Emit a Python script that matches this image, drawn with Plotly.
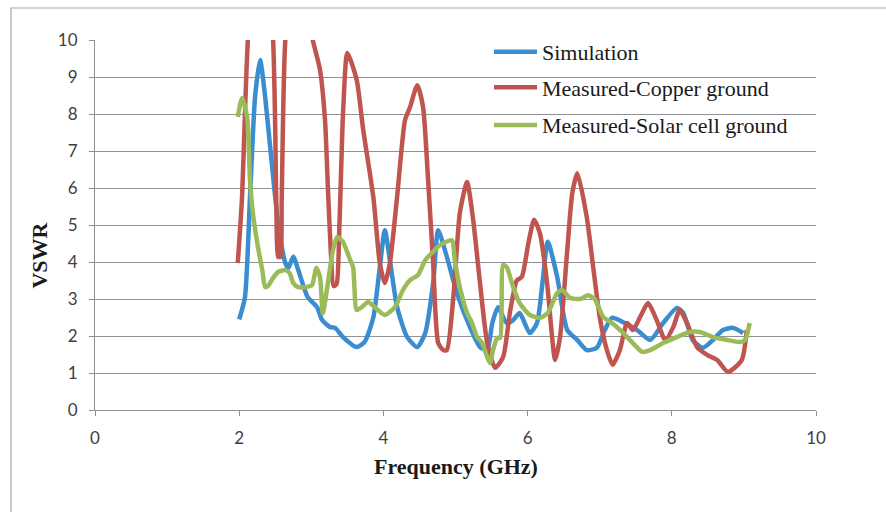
import plotly.graph_objects as go

# Simulated VSWR
sim_freq = [2.00, 2.08, 2.15, 2.22, 2.29, 2.36, 2.45, 2.54, 2.64, 2.68, 2.75, 2.82, 2.95, 3.08,
            3.15, 3.26, 3.33, 3.44, 3.63, 3.74, 3.86, 3.95, 4.02, 4.09, 4.19, 4.33, 4.47, 4.58,
            4.69, 4.76, 4.88, 5.02, 5.20, 5.34, 5.44, 5.51, 5.59, 5.71, 5.80, 5.89, 6.03, 6.13,
            6.21, 6.28, 6.41, 6.55, 6.69, 6.82, 6.96, 7.07, 7.17, 7.32, 7.52, 7.70, 7.88, 8.07,
            8.16, 8.29, 8.43, 8.57, 8.71, 8.85, 8.99]
sim_vswr = [2.45, 3.05, 5.76, 8.46, 9.46, 8.46, 6.70, 5.05, 3.97, 3.83, 4.14, 3.78, 3.05, 2.78,
            2.43, 2.24, 2.22, 1.97, 1.70, 1.84, 2.50, 3.86, 4.86, 4.05, 2.78, 1.97, 1.70, 2.08,
            3.43, 4.86, 4.14, 3.16, 2.24, 1.70, 1.62, 2.35, 2.78, 2.35, 2.43, 2.62, 2.08, 2.35,
            3.50, 4.55, 3.60, 2.16, 1.89, 1.62, 1.68, 2.16, 2.49, 2.38, 2.16, 1.89, 2.35, 2.76,
            2.62, 1.89, 1.68, 1.89, 2.16, 2.22, 2.08]

# Measured VSWR, copper ground plane
cu_freq = [1.98, 2.04, 2.08, 2.12, 2.22, 2.36, 2.47, 2.50, 2.52, 2.54, 2.57, 2.59, 2.64, 2.77,
           2.91, 3.02, 3.12, 3.19, 3.23, 3.27, 3.31, 3.35, 3.39, 3.44, 3.50, 3.63, 3.72, 3.86,
           3.95, 4.02, 4.09, 4.19, 4.30, 4.37, 4.47, 4.55, 4.62, 4.69, 4.76, 4.83, 4.88, 4.97,
           5.06, 5.16, 5.24, 5.34, 5.44, 5.55, 5.66, 5.76, 5.85, 5.92, 6.01, 6.09, 6.17, 6.27,
           6.34, 6.38, 6.45, 6.55, 6.62, 6.69, 6.82, 6.91, 7.00, 7.10, 7.18, 7.28, 7.38, 7.46,
           7.56, 7.67, 7.79, 7.91, 8.02, 8.11, 8.21, 8.35, 8.49, 8.63, 8.78, 8.97, 9.04]
cu_vswr = [3.97, 5.76, 8.03, 10.0, 12.5, 12.5, 10.0, 7.57, 4.86, 4.14, 4.14, 5.76, 10.0, 12.0,
           11.0, 10.0, 9.20, 7.84, 6.03, 4.30, 3.35, 3.40, 5.00, 8.00, 9.65, 8.92, 7.57, 5.76,
           3.97, 3.43, 3.97, 5.76, 7.84, 8.19, 8.78, 8.19, 6.22, 3.97, 1.81, 1.62, 1.62, 3.05,
           5.32, 6.16, 5.22, 3.43, 1.81, 1.14, 1.43, 2.70, 3.50, 3.60, 4.50, 5.14, 4.78, 3.43,
           1.97, 1.35, 1.97, 4.32, 5.86, 6.40, 5.22, 3.86, 2.51, 1.62, 1.22, 1.62, 2.35, 2.16,
           2.51, 2.89, 2.43, 1.89, 2.24, 2.70, 2.35, 1.70, 1.49, 1.35, 1.03, 1.35, 2.16]

# Measured VSWR, solar cell ground plane
solar_freq = [1.98, 2.04, 2.11, 2.15, 2.19, 2.26, 2.32, 2.36, 2.40, 2.47, 2.54, 2.64, 2.70, 2.75,
              2.82, 2.91, 3.01, 3.07, 3.12, 3.16, 3.23, 3.30, 3.36, 3.44, 3.54, 3.58, 3.63, 3.70,
              3.79, 3.88, 4.02, 4.16, 4.27, 4.37, 4.48, 4.58, 4.67, 4.79, 4.95, 4.99, 5.06, 5.16,
              5.23, 5.30, 5.37, 5.44, 5.48, 5.52, 5.58, 5.62, 5.66, 5.71, 5.80, 5.89, 6.03, 6.17,
              6.28, 6.41, 6.48, 6.59, 6.73, 6.84, 6.93, 7.05, 7.17, 7.31, 7.46, 7.59, 7.70, 7.88,
              8.07, 8.25, 8.39, 8.57, 8.77, 8.95, 9.02, 9.08]
solar_vswr = [7.92, 8.43, 7.92, 6.22, 5.32, 4.41, 3.78, 3.32, 3.35, 3.57, 3.73, 3.78, 3.70, 3.43,
              3.32, 3.32, 3.38, 3.84, 3.60, 2.62, 3.43, 4.32, 4.68, 4.54, 4.05, 3.86, 2.70, 2.78,
              2.92, 2.78, 2.57, 2.78, 3.24, 3.51, 3.65, 4.05, 4.24, 4.46, 4.59, 4.05, 3.32, 2.62,
              2.35, 1.97, 1.81, 1.43, 1.27, 1.62, 1.95, 1.95, 3.92, 3.86, 3.32, 2.89, 2.57, 2.49,
              2.62, 3.16, 3.24, 3.03, 3.00, 3.10, 3.00, 2.51, 2.35, 2.11, 1.81, 1.57, 1.62, 1.81,
              1.97, 2.11, 2.11, 1.97, 1.89, 1.84, 1.90, 2.35]

x_ticks = [0, 2, 4, 6, 8, 10]
y_ticks = list(range(0, 11))

series = [
    ("Simulation", sim_freq, sim_vswr, "#3A8DD1", "legend"),
    ("Measured-Copper ground", cu_freq, cu_vswr, "#C0554F", "legend2"),
    ("Measured-Solar cell ground", solar_freq, solar_vswr, "#9BBB59", "legend3"),
]

fig = go.Figure()
for name, fx, fy, color, leg in series:
    fig.add_trace(go.Scatter(
        x=fx, y=fy, name=name, mode="lines", legend=leg,
        line=dict(color=color, width=4.5, shape="spline", smoothing=0.6),
    ))

grid = "#8E9297"
serif = "Liberation Serif, Times New Roman, serif"
tick_font = dict(family="Lato, Open Sans, sans-serif", size=17, color="#404040")
legend_common = dict(
    bgcolor="rgba(0,0,0,0)", borderwidth=0, itemwidth=43,
    font=dict(family=serif, size=22, color="#1a1a1a"),
    xanchor="left", yanchor="middle",
)

fig.update_layout(
    width=886, height=512,
    margin=dict(l=95, r=70, t=40, b=102),
    paper_bgcolor="white", plot_bgcolor="white",
    showlegend=True,
    legend=dict(x=0.5465, y=0.968, **legend_common),
    legend2=dict(x=0.5465, y=0.872, **legend_common),
    legend3=dict(x=0.5465, y=0.770, **legend_common),
    xaxis=dict(
        range=[0, 10], tickvals=x_ticks, showgrid=False, zeroline=False,
        showline=True, linecolor=grid, linewidth=1.2,
        ticks="outside", ticklen=5, tickcolor=grid, tickwidth=1.2,
        tickfont=tick_font, ticklabelstandoff=7,
    ),
    yaxis=dict(
        range=[0, 10], tickvals=y_ticks, showgrid=True, gridcolor=grid, gridwidth=1.2,
        zeroline=False, showline=True, linecolor=grid, linewidth=1.2,
        ticks="outside", ticklen=5, tickcolor=grid, tickwidth=1.2,
        tickfont=tick_font, ticklabelstandoff=8,
    ),
    annotations=[
        dict(text="<b>VSWR</b>", x=-0.0763, y=0.42, xref="paper", yref="paper",
             textangle=-90, showarrow=False, xanchor="center", yanchor="middle",
             font=dict(family=serif, size=22, color="#1a1a1a")),
        dict(text="<b>Frequency (GHz)</b>", x=0.5, y=-0.154, xref="paper", yref="paper",
             showarrow=False, xanchor="center", yanchor="middle",
             font=dict(family=serif, size=22, color="#1a1a1a")),
    ],
    shapes=[
        dict(type="rect", xref="paper", yref="paper", x0=-0.1165, y0=-0.6, x1=1.3, y1=1.0865,
             line=dict(color="#A8A8A8", width=1.2), fillcolor="rgba(0,0,0,0)", layer="below"),
    ],
)

fig.write_html("out.html")
